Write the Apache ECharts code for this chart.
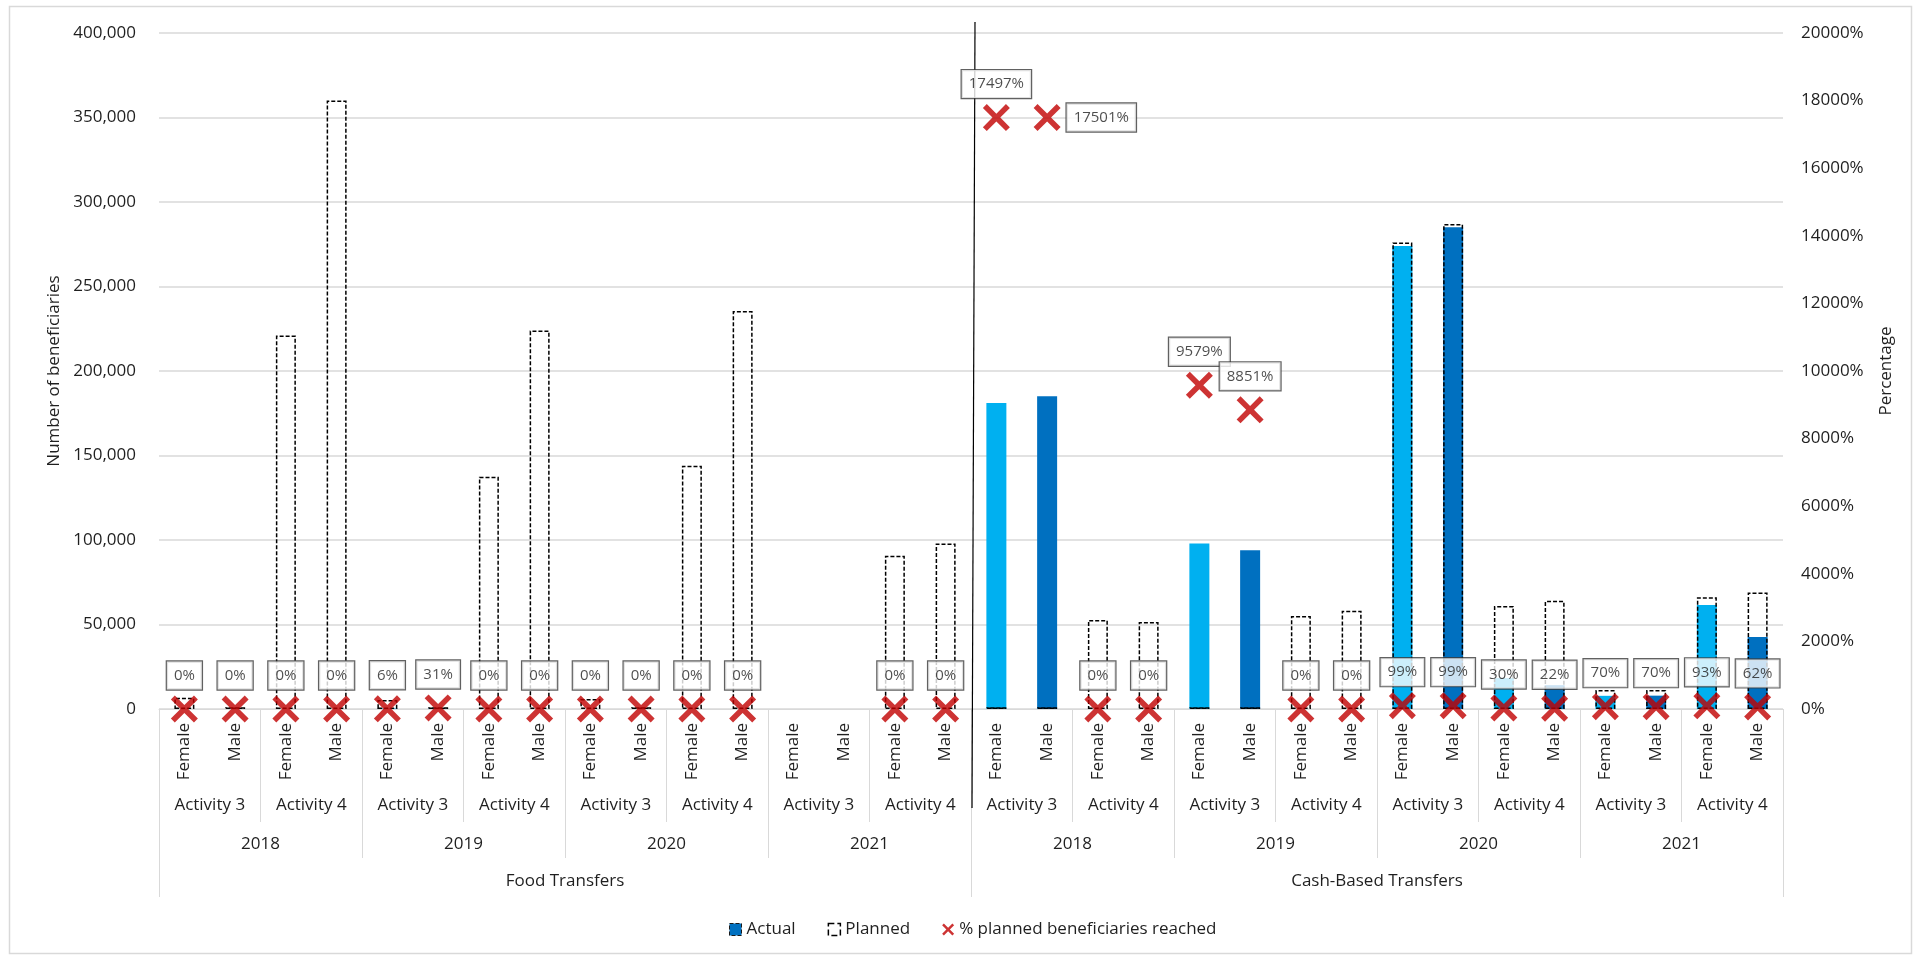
<!DOCTYPE html>
<html>
<head>
<meta charset="utf-8">
<script src="https://cdn.jsdelivr.net/npm/echarts@6/dist/echarts.min.js"></script>
<style>
  html, body { margin: 0; padding: 0; background: #fff; }
  #chart { width: 1921px; height: 959px; }
</style>
</head>
<body>
<div id="chart"></div>
<script>
// ---- data ----
const groups = ['Food Transfers', 'Cash-Based Transfers'];
const years = ['2018', '2019', '2020', '2021'];
const activities = ['Activity 3', 'Activity 4'];
const sexes = ['Female', 'Male'];

const actual = [
  0, 0, 0, 0,            320, 310, 0, 0,
  0, 0, 0, 0,            null, null, 0, 0,
  181000, 185000, 0, 0,  98000, 94000, 0, 0,
  274000, 285000, 18300, 14100, 7800, 7900, 61500, 42600
];
const planned = [
  6700, 1000, 221000, 360000,   5300, 1000, 137500, 224000,
  5900, 1000, 144000, 235500,   null, null, 90700, 98000,
  1030, 1060, 52700, 51500,     1020, 1060, 55000, 58200,
  276000, 287000, 61000, 64000, 11200, 11300, 66100, 69000
];
const pctReached = [
  0, 0, 0, 0,          6, 31, 0, 0,
  0, 0, 0, 0,          null, null, 0, 0,
  17497, 17501, 0, 0,  9579, 8851, 0, 0,
  99, 99, 30, 22,      70, 70, 93, 62
];

const leftMax = 400000, leftStep = 50000;
const rightMax = 20000, rightStep = 2000;

// ---- derived categories ----
const sexCats = [], actCats = [], yearCats = [];
groups.forEach(g => years.forEach(y => {
  yearCats.push(y);
  activities.forEach(a => {
    actCats.push(a);
    sexes.forEach(s => sexCats.push(s));
  });
}));

const colFemale = '#00B0F0', colMale = '#0070C0', colX = '#C00000';
const txt = '#1f1f1f', gridCol = '#D9D9D9';
const FONT = 'Open Sans';

const actualData = actual.map((v, i) => ({
  value: v,
  itemStyle: { color: sexCats[i] === 'Female' ? colFemale : colMale }
}));

const xPath = 'path://M0,2.9L2.9,0L10,7.1L17.1,0L20,2.9L12.9,10L20,17.1L17.1,20L10,12.9L2.9,20L0,17.1L7.1,10Z';

const pctData = pctReached.map((v, i) => {
  const d = { value: v };
  if (v === 17501) d.label = { position: 'right', distance: 6 };
  return d;
});

function sepAxis(data, len, margin) {
  return {
    type: 'category', gridIndex: 0, position: 'bottom', offset: 0,
    data: data,
    axisLine: { show: false },
    axisTick: { show: true, interval: 0, length: len, lineStyle: { color: gridCol, width: 1 } },
    axisLabel: { interval: 0, margin: margin, fontSize: 17, color: txt, fontFamily: FONT },
    splitLine: { show: false }
  };
}

const chart = echarts.init(document.getElementById('chart'), null, { renderer: 'canvas' });
const option = {
  animation: false,
  backgroundColor: '#fff',
  textStyle: { fontFamily: FONT },
  grid: { left: 159, right: 138, top: 33, bottom: 250, containLabel: false },
  legend: {
    left: 724, top: 916,
    itemWidth: 12, itemHeight: 12, itemGap: 32,
    textStyle: { fontSize: 17, color: txt, fontFamily: FONT },
    data: [
      { name: 'Actual', icon: 'rect', itemStyle: { color: colMale, borderColor: '#1a1a1a', borderWidth: 1, borderType: 'dashed' } },
      { name: 'Planned', icon: 'rect', itemStyle: { color: '#fff', borderColor: '#000', borderWidth: 1.5, borderType: 'dashed' } },
      { name: '% planned beneficiaries reached', icon: xPath, itemStyle: { color: colX } }
    ]
  },
  xAxis: [
    {
      type: 'category', gridIndex: 0, position: 'bottom', data: sexCats,
      axisLine: { show: true, lineStyle: { color: gridCol, width: 1 } },
      axisTick: { show: false },
      axisLabel: { interval: 0, rotate: 90, margin: 14, fontSize: 17, color: txt, fontFamily: FONT },
      splitLine: { show: false }
    },
    sepAxis(actCats, 113, 88),
    sepAxis(yearCats, 149, 127),
    sepAxis(groups, 188, 164)
  ],
  yAxis: [
    {
      type: 'value', min: 0, max: leftMax, interval: leftStep, position: 'left',
      name: 'Number of beneficiaries', nameLocation: 'middle', nameGap: 96,
      nameTextStyle: { fontSize: 17, color: txt, fontFamily: FONT },
      axisLine: { show: false }, axisTick: { show: false },
      axisLabel: { margin: 23, fontSize: 17, color: txt, fontFamily: FONT,
        formatter: v => v.toLocaleString('en-US') },
      splitLine: { show: true, lineStyle: { color: gridCol, width: 1.5 } }
    },
    {
      type: 'value', min: 0, max: rightMax, interval: rightStep, position: 'right',
      name: 'Percentage', nameLocation: 'middle', nameGap: 95,
      nameTextStyle: { fontSize: 17, color: txt, fontFamily: FONT },
      axisLine: { show: false }, axisTick: { show: false },
      axisLabel: { margin: 18, fontSize: 17, color: txt, fontFamily: FONT,
        formatter: v => String(v) + '%' },
      splitLine: { show: false }
    }
  ],
  series: [
    {
      name: 'Actual', type: 'bar', xAxisIndex: 0, yAxisIndex: 0,
      barWidth: 20, barGap: '-100%', z: 2,
      itemStyle: { color: colMale },
      data: actualData
    },
    {
      name: 'Planned', type: 'bar', xAxisIndex: 0, yAxisIndex: 0,
      barWidth: 20, barGap: '-100%', z: 3,
      itemStyle: { color: 'rgba(0,0,0,0)', borderColor: '#000', borderWidth: 1.5, borderType: [4, 2] },
      data: planned
    },
    {
      name: '% planned beneficiaries reached', type: 'scatter', xAxisIndex: 0, yAxisIndex: 1,
      symbol: xPath, symbolSize: 27, z: 5,
      itemStyle: { color: colX },
      label: {
        show: true, position: 'top', distance: 6,
        formatter: p => p.value + '%',
        fontSize: 15, color: txt, fontFamily: FONT,
        backgroundColor: '#fff', borderColor: '#3a3a3a', borderWidth: 1.2,
        padding: [4, 7], lineHeight: 20
      },
      labelLayout: { hideOverlap: false },
      data: pctData
    }
  ]
};
chart.setOption(option);

// decorations computed from the chart's own scales
const g0 = chart.convertToPixel({ xAxisIndex: 3 }, 0);
const g1 = chart.convertToPixel({ xAxisIndex: 3 }, 1);
const bx = (g0 + g1) / 2;
const yTop = chart.convertToPixel({ yAxisIndex: 0 }, leftMax);
const yZero = chart.convertToPixel({ yAxisIndex: 0 }, 0);
chart.setOption({
  graphic: [
    { type: 'rect', z: 0, silent: true,
      shape: { x: 9.5, y: 6.5, width: 1902, height: 947 },
      style: { fill: 'none', stroke: gridCol, lineWidth: 1.5 } },
    { type: 'line', z: 1, silent: true,
      shape: { x1: bx + 4, y1: yTop - 11, x2: bx + 1, y2: yZero + 99 },
      style: { stroke: '#000', lineWidth: 1.2 } }
  ]
});
</script>
</body>
</html>
